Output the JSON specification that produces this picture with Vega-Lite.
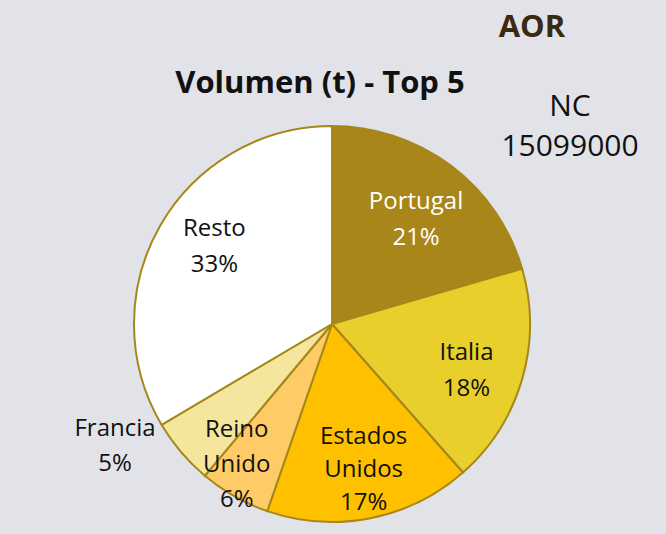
{
  "$schema": "https://vega.github.io/schema/vega-lite/v6.json",
  "width": 664,
  "height": 420,
  "autosize": {"type": "none"},
  "padding": {"top": 114, "left": 0, "right": 2, "bottom": 0},
  "background": "#E1E3E8",
  "view": {"stroke": null},
  "data": {
    "values": [
      {"pais": "Portugal", "valor": 20.5, "orden": 1, "etiqueta": "Portugal\n21%"},
      {"pais": "Italia", "valor": 18.0, "orden": 2, "etiqueta": "Italia\n18%"},
      {"pais": "Estados Unidos", "valor": 16.8, "orden": 3, "etiqueta": "Estados\nUnidos\n17%"},
      {"pais": "Reino Unido", "valor": 5.8, "orden": 4, "etiqueta": "Reino\nUnido\n6%"},
      {"pais": "Francia", "valor": 5.4, "orden": 5, "etiqueta": "Francia\n5%"},
      {"pais": "Resto", "valor": 33.5, "orden": 6, "etiqueta": "Resto\n33%"}
    ]
  },
  "encoding": {
    "theta": {"field": "valor", "type": "quantitative", "stack": true},
    "order": {"field": "orden", "type": "quantitative"}
  },
  "layer": [
    {
      "mark": {"type": "arc", "outerRadius": 198, "stroke": "#A6871A", "strokeWidth": 2},
      "encoding": {
        "color": {
          "field": "pais",
          "type": "nominal",
          "scale": {
            "domain": ["Portugal", "Italia", "Estados Unidos", "Reino Unido", "Francia", "Resto"],
            "range": ["#A8861A", "#E8CF2C", "#FFC000", "#FFCB66", "#F5E69E", "#FFFFFF"]
          },
          "legend": null
        }
      }
    },
    {
      "mark": {"type": "text", "radius": 140, "font": "Open Sans", "fontSize": 24, "lineBreak": "\n", "lineHeight": 36, "baseline": "middle", "align": "center", "dy": -10},
      "encoding": {
        "text": {"condition": {"test": "datum.pais == 'Portugal' || datum.pais == 'Italia'", "field": "etiqueta"}, "value": ""},
        "color": {"condition": {"test": "datum.pais == 'Portugal'", "value": "#FFFFFF"}, "value": "#111111"}
      }
    },
    {
      "mark": {"type": "text", "radius": 140, "font": "Open Sans", "fontSize": 24, "lineBreak": "\n", "lineHeight": 36, "baseline": "middle", "align": "center", "color": "#111111", "dy": -26, "dx": 4},
      "encoding": {"text": {"condition": {"test": "datum.pais == 'Resto'", "field": "etiqueta"}, "value": ""}}
    },
    {
      "mark": {"type": "text", "radius": 148, "font": "Open Sans", "fontSize": 24, "lineBreak": "\n", "lineHeight": 33, "baseline": "middle", "align": "center", "color": "#111111", "dx": 3, "dy": -32},
      "encoding": {"text": {"condition": {"test": "datum.pais == 'Estados Unidos'", "field": "etiqueta"}, "value": ""}}
    },
    {
      "mark": {"type": "text", "radius": 165, "font": "Open Sans", "fontSize": 24, "lineBreak": "\n", "lineHeight": 35, "baseline": "middle", "align": "center", "color": "#111111", "dx": -14, "dy": -38},
      "encoding": {"text": {"condition": {"test": "datum.pais == 'Reino Unido'", "field": "etiqueta"}, "value": ""}}
    },
    {
      "mark": {"type": "text", "radius": 240, "font": "Open Sans", "fontSize": 24, "lineBreak": "\n", "lineHeight": 35, "baseline": "middle", "align": "center", "color": "#111111", "dx": -34, "dy": -50},
      "encoding": {"text": {"condition": {"test": "datum.pais == 'Francia'", "field": "etiqueta"}, "value": ""}}
    },
    {
      "data": {"values": [{"t": "Volumen (t) - Top 5"}]},
      "mark": {"type": "text", "font": "Open Sans", "fontSize": 31, "fontWeight": "bold", "color": "#111111", "align": "center", "baseline": "middle"},
      "encoding": {"text": {"field": "t"}, "x": {"value": 320}, "y": {"value": -30}, "theta": null, "order": null}
    },
    {
      "data": {"values": [{"t": "AOR"}]},
      "mark": {"type": "text", "font": "Open Sans", "fontSize": 31, "fontWeight": "bold", "color": "#3A2A10", "align": "center", "baseline": "middle"},
      "encoding": {"text": {"field": "t"}, "x": {"value": 532}, "y": {"value": -86}, "theta": null, "order": null}
    },
    {
      "data": {"values": [{"t": "NC\n15099000"}]},
      "mark": {"type": "text", "font": "Open Sans", "fontSize": 30, "color": "#111111", "align": "center", "baseline": "middle", "lineBreak": "\n", "lineHeight": 40},
      "encoding": {"text": {"field": "t"}, "x": {"value": 570}, "y": {"value": -7}, "theta": null, "order": null}
    }
  ]
}
